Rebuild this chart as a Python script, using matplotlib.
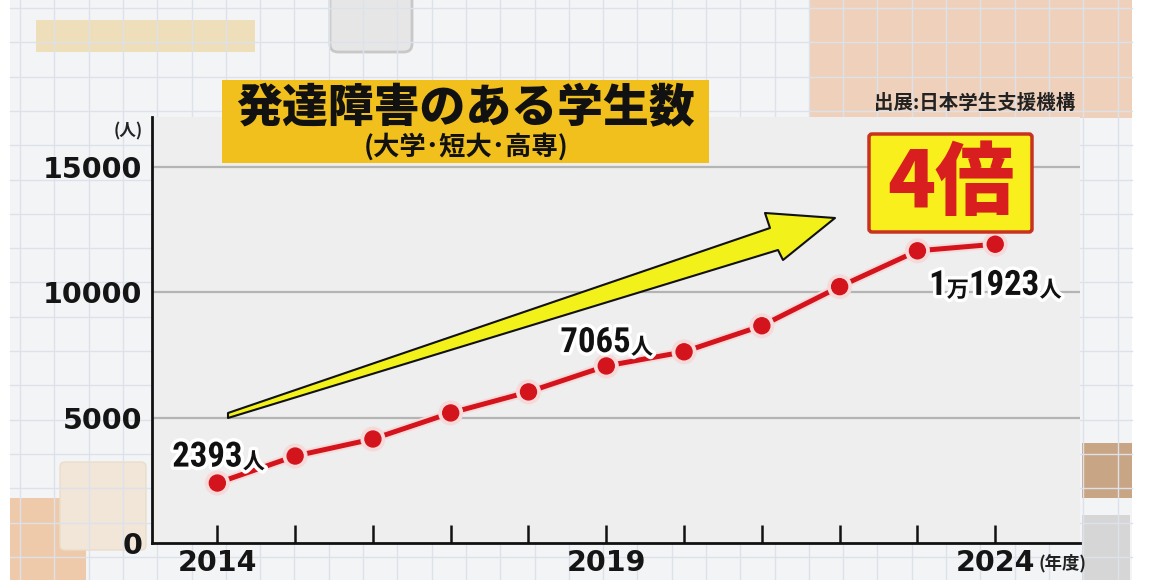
import matplotlib
matplotlib.use("Agg")
import matplotlib.pyplot as plt
import matplotlib.patheffects as pe
from matplotlib import font_manager as fm
from matplotlib.patches import Rectangle, FancyBboxPatch, Polygon
import numpy as np

# ---------------- data ----------------
years = [2014, 2015, 2016, 2017, 2018, 2019, 2020, 2021, 2022, 2023, 2024]
students = [2393, 3470, 4150, 5190, 6030, 7065, 7630, 8670, 10230, 11660, 11923]
ytick_vals = [0, 5000, 10000, 15000]
ytick_labels = ["0", "5000", "10000", "15000"]
xtick_labels = {2014: "2014", 2019: "2019", 2024: "2024"}
title = "発達障害のある学生数"
subtitle = "(大学･短大･高専)"
source = "出展:日本学生支援機構"
badge = "4倍"

W, H = 1156, 580
CJK = "Noto Sans CJK JP"
NUM = ["DejaVu Sans", CJK]

# pick a condensed face if one is installed
cond_names = sorted({f.name for f in fm.fontManager.ttflist
                     if "condensed" in f.name.lower() or "narrow" in f.name.lower()})
NARROW_FAM = None
for cand in ["DejaVu Sans Condensed", "Liberation Sans Narrow", "Roboto Condensed",
             "Open Sans Condensed", "Noto Sans Condensed"]:
    if cand in cond_names:
        NARROW_FAM = cand
        break
if NARROW_FAM is not None:
    NARROW = [NARROW_FAM, CJK]
    STRETCH = "normal"
else:
    NARROW = ["DejaVu Sans", CJK]
    STRETCH = "condensed"

fig = plt.figure(figsize=(W / 100, H / 100), dpi=100)
fig.patch.set_facecolor("white")

# ---------- background (pixel coordinates) ----------
bg = fig.add_axes([0, 0, 1, 1], zorder=-10)
bg.set_xlim(0, W)
bg.set_ylim(H, 0)
bg.axis("off")
bg.add_patch(Rectangle((10, 0), 1122, 580, fc="#f3f4f6", ec="none"))
for gx in np.arange(20, 1132, 34.3):
    bg.plot([gx, gx], [0, 580], color="#dde2ea", lw=1)
for gy in np.arange(8, 580, 34.3):
    bg.plot([10, 1132], [gy, gy], color="#dde2ea", lw=1)
bg.add_patch(Rectangle((36, 20), 219, 32, fc="#eedcb4", ec="none", alpha=0.9))
bg.add_patch(FancyBboxPatch((330, -10), 82, 62, boxstyle="round,pad=0,rounding_size=8",
                            fc="#e6e6e6", ec="#c8c8c8", lw=2))
bg.add_patch(Rectangle((810, 0), 322, 118, fc="#efd0b8", ec="none", alpha=0.95))
bg.add_patch(Rectangle((10, 498), 76, 82, fc="#efcaaa", ec="none"))
bg.add_patch(FancyBboxPatch((60, 462), 86, 88, boxstyle="round,pad=0,rounding_size=5",
                            fc="#f1e6d8", ec="#ebdccb", lw=1))
bg.add_patch(Rectangle((1082, 443), 50, 55, fc="#c8a585", ec="none"))
bg.add_patch(Rectangle((1082, 515), 48, 65, fc="#d6d6d6", ec="none"))

# ---------- main axes ----------
left, right, bottom, top = 152, 1080, 543, 117
ax = fig.add_axes([left / W, (H - bottom) / H, (right - left) / W, (bottom - top) / H])
ax.set_facecolor("#eeeeee")
ax.set_xlim(2013.16, 2025.09)
ax.set_ylim(0, 17000)
for s in ["top", "right"]:
    ax.spines[s].set_visible(False)
for s in ["left", "bottom"]:
    ax.spines[s].set_color("#111111")
    ax.spines[s].set_linewidth(2)

for v in ytick_vals[1:]:
    ax.axhline(v, color="#b4b4b4", lw=1.6, zorder=1)

ax.set_yticks(ytick_vals)
ax.set_yticklabels(ytick_labels, fontfamily=NUM, fontweight="bold", fontsize=20.5, color="#151515")
ax.tick_params(axis="y", length=0, pad=7)
ax.set_xticks(years)
ax.set_xticklabels([xtick_labels.get(y, "") for y in years], fontfamily=NUM,
                   fontweight="bold", fontsize=20.5, color="#151515")
ax.tick_params(axis="x", direction="in", length=13, width=1.8, color="#111111", pad=4)

ax.plot(years, students, color="#d3141c", lw=3.6, marker="o", ms=11.5, zorder=5,
        path_effects=[pe.Stroke(linewidth=6.5, foreground="#f6dada"), pe.Normal()])

glow = [pe.withStroke(linewidth=5, foreground="white")]


def label(parts, x, y):
    prev = None
    for txt, size in parts:
        kw = dict(fontfamily=NARROW, fontstretch=STRETCH, fontweight="semibold", fontsize=size,
                  color="#111111", path_effects=glow, zorder=6)
        if prev is None:
            prev = ax.text(x, y, txt, ha="left", va="baseline", **kw)
        else:
            prev = ax.annotate(txt, xy=(1, 0), xycoords=prev, ha="left", va="bottom", **kw)


label([("2393", 25), ("人", 16)], 2013.42, 3050)
label([("7065", 25), ("人", 16)], 2018.41, 7620)
label([("1", 25), ("万", 16), ("1923", 25), ("人", 16)], 2023.15, 9900)

# ---------- overlay (pixel coordinates) ----------
ov = fig.add_axes([0, 0, 1, 1], zorder=10)
ov.set_xlim(0, W)
ov.set_ylim(H, 0)
ov.axis("off")
ov.patch.set_visible(False)

ov.add_patch(Rectangle((222, 80), 487, 83, fc="#f2c01c", ec="none"))
ov.text(466, 109, title, fontfamily=CJK, fontweight="heavy", fontsize=33, color="#111111",
        ha="center", va="center")
ov.text(466, 147, subtitle, fontfamily=CJK, fontweight="bold", fontsize=19, color="#111111",
        ha="center", va="center")

ov.text(975, 103, source, fontfamily=CJK, fontweight="bold", fontsize=14, color="#222222",
        ha="center", va="center")
ov.text(128, 131, "(人)", fontfamily=CJK, fontweight="bold", fontsize=12, color="#222222",
        ha="center", va="center")
ov.text(1039, 563, "(年度)", fontfamily=CJK, fontweight="bold", fontsize=12.5, color="#222222",
        ha="left", va="center")

ov.add_patch(FancyBboxPatch((869, 134), 163, 98, boxstyle="round,pad=0,rounding_size=3",
                            fc="#f8ef1c", ec="#c8321e", lw=2.5))
ov.text(951, 185, badge, fontfamily=CJK, fontweight="heavy", fontsize=57, color="#d81e1e",
        ha="center", va="center")

arrow = Polygon([(228, 413), (770, 228), (765, 213), (835, 218), (783, 260), (778, 250),
                 (228, 418)], closed=True, fc="#f2f21a", ec="#111111", lw=1.5, joinstyle="round")
ov.add_patch(arrow)

fig.savefig("out.png", dpi=100)
